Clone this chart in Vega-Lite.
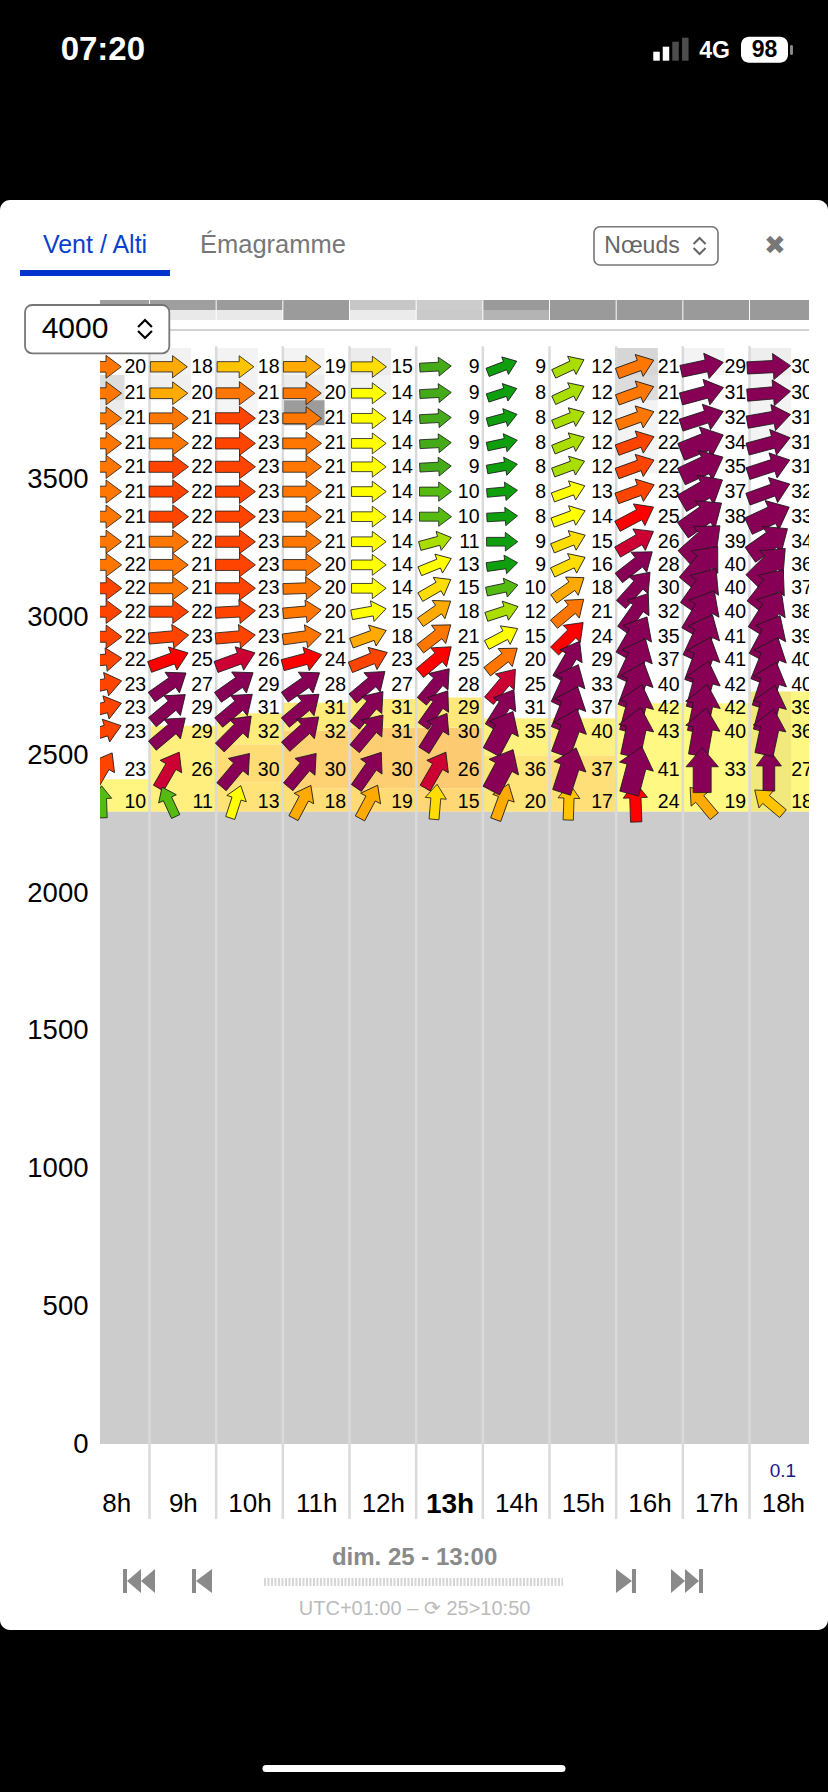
{
"$schema": "https://vega.github.io/schema/vega-lite/v6.json",
"autosize": "none",
"width": 709,
"height": 1144,
"padding": {"left": 100, "right": 19, "top": 300, "bottom": 348},
"background": "black",
"config": {"view": {"stroke": null}, "scale": {"continuousPadding": 0}},
"datasets": {
"cols": [
{"h":8,"hi":94,"lo":22,"rain":0},{"h":9,"hi":94,"lo":22,"rain":0},{"h":10,"hi":98,"lo":22,"rain":0},{"h":11,"hi":98,"lo":98,"rain":0},{"h":12,"hi":55,"lo":20,"rain":0},{"h":13,"hi":50,"lo":52,"rain":0},{"h":14,"hi":99,"lo":74,"rain":0},{"h":15,"hi":99,"lo":99,"rain":0},{"h":16,"hi":99,"lo":99,"rain":0},{"h":17,"hi":99,"lo":99,"rain":0},{"h":18,"hi":99,"lo":99,"rain":0.1}
],
"thermal": [
{"h":8,"base":2295,"top":2413,"climb":0.8},
{"h":9,"base":2295,"top":2607,"climb":1.1},
{"h":10,"base":2295,"top":2400,"climb":1.7},{"h":10,"base":2400,"top":2540,"climb":2.0},{"h":10,"base":2540,"top":2652,"climb":1.2},
{"h":11,"base":2295,"top":2380,"climb":1.9},{"h":11,"base":2380,"top":2590,"climb":2.5},{"h":11,"base":2590,"top":2691,"climb":1.3},
{"h":12,"base":2295,"top":2380,"climb":2.1},{"h":12,"base":2380,"top":2600,"climb":2.7},{"h":12,"base":2600,"top":2704,"climb":1.3},
{"h":13,"base":2295,"top":2380,"climb":2.2},{"h":13,"base":2380,"top":2600,"climb":2.9},{"h":13,"base":2600,"top":2710,"climb":1.4},
{"h":14,"base":2295,"top":2500,"climb":1.6},{"h":14,"base":2500,"top":2634,"climb":1.0},
{"h":15,"base":2295,"top":2500,"climb":1.8},{"h":15,"base":2500,"top":2634,"climb":1.0},
{"h":16,"base":2295,"top":2689,"climb":0.6},
{"h":17,"base":2295,"top":2689,"climb":0.6},
{"h":18,"base":2295,"top":2731,"climb":0.7}
],
"cloud": [
{"h":8,"lo":3789,"hi":3880,"cover":34},{"h":8,"lo":3698,"hi":3789,"cover":20},
{"h":9,"lo":3880,"hi":3978,"cover":13},{"h":9,"lo":3789,"hi":3880,"cover":16},
{"h":10,"lo":3880,"hi":3978,"cover":12},{"h":10,"lo":3789,"hi":3880,"cover":14},{"h":10,"lo":3698,"hi":3789,"cover":10},
{"h":11,"lo":3880,"hi":3978,"cover":12},{"h":11,"lo":3789,"hi":3880,"cover":20},{"h":11,"lo":3698,"hi":3789,"cover":97},
{"h":12,"lo":3880,"hi":3978,"cover":19},{"h":12,"lo":3789,"hi":3880,"cover":12},
{"h":16,"lo":3880,"hi":3978,"cover":40},{"h":16,"lo":3789,"hi":3880,"cover":34},{"h":16,"lo":3524,"hi":3789,"cover":12},
{"h":17,"lo":3880,"hi":3978,"cover":12},
{"h":18,"lo":3880,"hi":3978,"cover":17},{"h":18,"lo":3611,"hi":3880,"cover":12},{"h":18,"lo":2295,"hi":2731,"cover":14}
],
"wind": [
{"h":8,"a":3910,"kt":20,"dir":270},{"h":8,"a":3814,"kt":21,"dir":270},{"h":8,"a":3723,"kt":21,"dir":270},{"h":8,"a":3632,"kt":21,"dir":270},{"h":8,"a":3547,"kt":21,"dir":270},{"h":8,"a":3457,"kt":21,"dir":270},{"h":8,"a":3366,"kt":21,"dir":270},{"h":8,"a":3275,"kt":21,"dir":270},{"h":8,"a":3191,"kt":21.6,"dir":270},{"h":8,"a":3106,"kt":22,"dir":270},{"h":8,"a":3021,"kt":22,"dir":270},{"h":8,"a":2930,"kt":22,"dir":270},{"h":8,"a":2846,"kt":22,"dir":265},{"h":8,"a":2755,"kt":23,"dir":258},{"h":8,"a":2670,"kt":23,"dir":255},{"h":8,"a":2585,"kt":23,"dir":252},{"h":8,"a":2446,"kt":23,"dir":210},{"h":8,"a":2331,"kt":10,"dir":178},
{"h":9,"a":3910,"kt":18,"dir":270},{"h":9,"a":3814,"kt":19.6,"dir":270},{"h":9,"a":3723,"kt":21,"dir":270},{"h":9,"a":3632,"kt":21.6,"dir":270},{"h":9,"a":3547,"kt":22,"dir":270},{"h":9,"a":3457,"kt":22,"dir":270},{"h":9,"a":3366,"kt":22,"dir":270},{"h":9,"a":3275,"kt":21.6,"dir":270},{"h":9,"a":3191,"kt":21,"dir":270},{"h":9,"a":3106,"kt":21,"dir":270},{"h":9,"a":3021,"kt":22,"dir":270},{"h":9,"a":2930,"kt":23,"dir":265},{"h":9,"a":2846,"kt":25,"dir":250},{"h":9,"a":2755,"kt":27,"dir":235},{"h":9,"a":2670,"kt":29,"dir":230},{"h":9,"a":2585,"kt":29,"dir":230},{"h":9,"a":2446,"kt":26,"dir":210},{"h":9,"a":2331,"kt":10.6,"dir":155},
{"h":10,"a":3910,"kt":17.6,"dir":270},{"h":10,"a":3814,"kt":21,"dir":270},{"h":10,"a":3723,"kt":23,"dir":270},{"h":10,"a":3632,"kt":23,"dir":270},{"h":10,"a":3547,"kt":23,"dir":270},{"h":10,"a":3457,"kt":23,"dir":270},{"h":10,"a":3366,"kt":23,"dir":270},{"h":10,"a":3275,"kt":23,"dir":270},{"h":10,"a":3191,"kt":23,"dir":270},{"h":10,"a":3106,"kt":23,"dir":270},{"h":10,"a":3021,"kt":23,"dir":267},{"h":10,"a":2930,"kt":23,"dir":265},{"h":10,"a":2846,"kt":26,"dir":250},{"h":10,"a":2755,"kt":29,"dir":235},{"h":10,"a":2670,"kt":31,"dir":230},{"h":10,"a":2585,"kt":32,"dir":225},{"h":10,"a":2446,"kt":30,"dir":220},{"h":10,"a":2331,"kt":13,"dir":198},
{"h":11,"a":3910,"kt":19,"dir":270},{"h":11,"a":3814,"kt":20,"dir":270},{"h":11,"a":3723,"kt":21,"dir":270},{"h":11,"a":3632,"kt":21,"dir":270},{"h":11,"a":3547,"kt":21,"dir":270},{"h":11,"a":3457,"kt":21,"dir":270},{"h":11,"a":3366,"kt":21,"dir":270},{"h":11,"a":3275,"kt":21,"dir":270},{"h":11,"a":3191,"kt":20,"dir":270},{"h":11,"a":3106,"kt":20,"dir":268},{"h":11,"a":3021,"kt":20,"dir":265},{"h":11,"a":2930,"kt":21,"dir":262},{"h":11,"a":2846,"kt":24,"dir":255},{"h":11,"a":2755,"kt":28,"dir":235},{"h":11,"a":2670,"kt":31,"dir":230},{"h":11,"a":2585,"kt":32,"dir":228},{"h":11,"a":2446,"kt":30,"dir":220},{"h":11,"a":2331,"kt":18,"dir":208},
{"h":12,"a":3910,"kt":15,"dir":270},{"h":12,"a":3814,"kt":14,"dir":270},{"h":12,"a":3723,"kt":14,"dir":270},{"h":12,"a":3632,"kt":14,"dir":270},{"h":12,"a":3547,"kt":14,"dir":270},{"h":12,"a":3457,"kt":14,"dir":270},{"h":12,"a":3366,"kt":14,"dir":270},{"h":12,"a":3275,"kt":14,"dir":270},{"h":12,"a":3191,"kt":14,"dir":270},{"h":12,"a":3106,"kt":14,"dir":270},{"h":12,"a":3021,"kt":14.6,"dir":260},{"h":12,"a":2930,"kt":18,"dir":250},{"h":12,"a":2846,"kt":23,"dir":248},{"h":12,"a":2755,"kt":27,"dir":230},{"h":12,"a":2670,"kt":31,"dir":220},{"h":12,"a":2585,"kt":31,"dir":220},{"h":12,"a":2446,"kt":30,"dir":215},{"h":12,"a":2331,"kt":19,"dir":208},
{"h":13,"a":3910,"kt":9.2,"dir":267},{"h":13,"a":3814,"kt":9.2,"dir":267},{"h":13,"a":3723,"kt":9.2,"dir":267},{"h":13,"a":3632,"kt":9.2,"dir":267},{"h":13,"a":3547,"kt":9.2,"dir":267},{"h":13,"a":3457,"kt":10,"dir":270},{"h":13,"a":3366,"kt":10,"dir":270},{"h":13,"a":3275,"kt":11,"dir":255},{"h":13,"a":3191,"kt":13,"dir":248},{"h":13,"a":3106,"kt":15,"dir":240},{"h":13,"a":3021,"kt":18,"dir":235},{"h":13,"a":2930,"kt":21,"dir":232},{"h":13,"a":2846,"kt":25,"dir":230},{"h":13,"a":2755,"kt":28,"dir":220},{"h":13,"a":2670,"kt":29,"dir":215},{"h":13,"a":2585,"kt":30,"dir":212},{"h":13,"a":2446,"kt":26,"dir":210},{"h":13,"a":2331,"kt":15,"dir":185},
{"h":14,"a":3910,"kt":8.8,"dir":249},{"h":14,"a":3814,"kt":8,"dir":252},{"h":14,"a":3723,"kt":8,"dir":255},{"h":14,"a":3632,"kt":8,"dir":258},{"h":14,"a":3547,"kt":8,"dir":260},{"h":14,"a":3457,"kt":8,"dir":265},{"h":14,"a":3366,"kt":8,"dir":267},{"h":14,"a":3275,"kt":8.8,"dir":270},{"h":14,"a":3191,"kt":8.8,"dir":262},{"h":14,"a":3106,"kt":10,"dir":258},{"h":14,"a":3021,"kt":12,"dir":252},{"h":14,"a":2930,"kt":14.6,"dir":242},{"h":14,"a":2846,"kt":20,"dir":232},{"h":14,"a":2755,"kt":25.4,"dir":220},{"h":14,"a":2670,"kt":31,"dir":212},{"h":14,"a":2585,"kt":35,"dir":208},{"h":14,"a":2446,"kt":36,"dir":208},{"h":14,"a":2331,"kt":19.6,"dir":200},
{"h":15,"a":3910,"kt":12,"dir":245},{"h":15,"a":3814,"kt":12,"dir":245},{"h":15,"a":3723,"kt":12,"dir":248},{"h":15,"a":3632,"kt":12,"dir":248},{"h":15,"a":3547,"kt":12,"dir":250},{"h":15,"a":3457,"kt":13,"dir":250},{"h":15,"a":3366,"kt":14,"dir":250},{"h":15,"a":3275,"kt":15,"dir":248},{"h":15,"a":3191,"kt":16,"dir":245},{"h":15,"a":3106,"kt":18,"dir":235},{"h":15,"a":3021,"kt":21,"dir":230},{"h":15,"a":2930,"kt":24,"dir":225},{"h":15,"a":2846,"kt":29,"dir":210},{"h":15,"a":2755,"kt":33,"dir":205},{"h":15,"a":2670,"kt":37,"dir":202},{"h":15,"a":2585,"kt":40,"dir":200},{"h":15,"a":2446,"kt":37,"dir":198},{"h":15,"a":2331,"kt":17,"dir":182},
{"h":16,"a":3910,"kt":21,"dir":250},{"h":16,"a":3814,"kt":21,"dir":250},{"h":16,"a":3723,"kt":21.6,"dir":250},{"h":16,"a":3632,"kt":22,"dir":250},{"h":16,"a":3547,"kt":22,"dir":250},{"h":16,"a":3457,"kt":23,"dir":250},{"h":16,"a":3366,"kt":25,"dir":242},{"h":16,"a":3275,"kt":26,"dir":240},{"h":16,"a":3191,"kt":28,"dir":232},{"h":16,"a":3106,"kt":30,"dir":222},{"h":16,"a":3021,"kt":32,"dir":215},{"h":16,"a":2930,"kt":35,"dir":210},{"h":16,"a":2846,"kt":37,"dir":205},{"h":16,"a":2755,"kt":40,"dir":200},{"h":16,"a":2670,"kt":42,"dir":195},{"h":16,"a":2585,"kt":43,"dir":192},{"h":16,"a":2446,"kt":41,"dir":195},{"h":16,"a":2331,"kt":24,"dir":178},
{"h":17,"a":3910,"kt":29,"dir":258},{"h":17,"a":3814,"kt":31,"dir":255},{"h":17,"a":3723,"kt":32,"dir":252},{"h":17,"a":3632,"kt":34,"dir":248},{"h":17,"a":3547,"kt":35,"dir":245},{"h":17,"a":3457,"kt":37,"dir":240},{"h":17,"a":3366,"kt":38,"dir":235},{"h":17,"a":3275,"kt":39,"dir":228},{"h":17,"a":3191,"kt":40,"dir":220},{"h":17,"a":3106,"kt":40,"dir":215},{"h":17,"a":3021,"kt":40,"dir":210},{"h":17,"a":2930,"kt":41,"dir":205},{"h":17,"a":2846,"kt":41,"dir":200},{"h":17,"a":2755,"kt":42,"dir":195},{"h":17,"a":2670,"kt":42,"dir":192},{"h":17,"a":2585,"kt":40,"dir":190},{"h":17,"a":2446,"kt":33,"dir":180},{"h":17,"a":2331,"kt":19,"dir":140},
{"h":18,"a":3910,"kt":30,"dir":267},{"h":18,"a":3814,"kt":30,"dir":265},{"h":18,"a":3723,"kt":31,"dir":260},{"h":18,"a":3632,"kt":31,"dir":255},{"h":18,"a":3547,"kt":31,"dir":252},{"h":18,"a":3457,"kt":32,"dir":250},{"h":18,"a":3366,"kt":33,"dir":245},{"h":18,"a":3275,"kt":34,"dir":235},{"h":18,"a":3191,"kt":36,"dir":225},{"h":18,"a":3106,"kt":37,"dir":218},{"h":18,"a":3021,"kt":38,"dir":212},{"h":18,"a":2930,"kt":39,"dir":208},{"h":18,"a":2846,"kt":40,"dir":202},{"h":18,"a":2755,"kt":40,"dir":198},{"h":18,"a":2670,"kt":39,"dir":195},{"h":18,"a":2585,"kt":36,"dir":192},{"h":18,"a":2446,"kt":27,"dir":180},{"h":18,"a":2331,"kt":17.6,"dir":130}
]
},
"resolve": {"scale": {"fill": "independent"}},
"layer": [
{"data": {"values": [{}]}, "mark": {"type": "rect", "fill": "white", "cornerRadius": 10, "clip": false},
 "encoding": {"x": {"datum": 6.2576}, "x2": {"datum": 18.6771}, "y": {"datum": 4515.4}, "y2": {"datum": -675.1}}},
{"data": {"name": "cols"}, "mark": {"type": "bar", "width": 65.7, "fill": "black", "clip": true},
 "encoding": {"x": {"field": "h", "type": "quantitative", "scale": {"domain": [7.7575, 18.3921], "nice": false, "zero": false, "padding": 0}},
  "y": {"datum": 4152.4, "scale": {"domain": [0, 4152.45], "nice": false, "zero": false, "padding": 0}}, "y2": {"datum": 4116.2},
  "opacity": {"field": "hi", "type": "quantitative", "scale": {"domain": [0, 100], "range": [0, 0.4]}, "legend": null}}},
{"data": {"name": "cols"}, "mark": {"type": "bar", "width": 65.7, "fill": "black", "clip": true},
 "encoding": {"x": {"field": "h", "type": "quantitative"},
  "y": {"datum": 4116.2}, "y2": {"datum": 4079.9},
  "opacity": {"field": "lo", "type": "quantitative", "scale": {"domain": [0, 100], "range": [0, 0.4]}, "legend": null}}},
{"data": {"values": [{}]}, "mark": {"type": "rule", "stroke": "#d3d3d3", "strokeWidth": 2, "clip": true},
 "encoding": {"x": {"datum": 7.7575}, "x2": {"datum": 18.3921}, "y": {"datum": 4043.6}}},
{"data": {"name": "thermal"}, "mark": {"type": "bar", "width": 66.67, "clip": true},
 "encoding": {"x": {"field": "h", "type": "quantitative"},
  "y": {"field": "base", "type": "quantitative"}, "y2": {"field": "top"},
  "fill": {"field": "climb", "type": "quantitative", "scale": {"domain": [0.5, 3], "range": ["#fffb85", "#fcc870"]}, "legend": null}}},
{"data": {"name": "cloud"}, "mark": {"type": "bar", "width": 41.7, "xOffset": -12.5, "fill": "black", "clip": true},
 "encoding": {"x": {"field": "h", "type": "quantitative"},
  "y": {"field": "lo", "type": "quantitative"}, "y2": {"field": "hi"},
  "opacity": {"field": "cover", "type": "quantitative", "scale": {"domain": [0, 100], "range": [0, 0.4]}, "legend": null}}},
{"data": {"values": [{}]}, "mark": {"type": "rect", "fill": "#cccccc", "clip": true},
 "encoding": {"x": {"datum": 7.7575}, "x2": {"datum": 18.3921}, "y": {"datum": 0}, "y2": {"datum": 2295}}},
{"data": {"name": "cols"}, "transform": [{"filter": "datum.h < 18"}], "mark": {"type": "rule", "stroke": "#dadada", "strokeWidth": 2.5, "xOffset": 33.33, "clip": false},
 "encoding": {"x": {"field": "h", "type": "quantitative"}, "y": {"datum": 3985}, "y2": {"datum": -272}}},
{"data": {"name": "wind"}, "mark": {"type": "text", "align": "right", "baseline": "middle", "dx": 30, "font": "Liberation Sans", "fontSize": 19.5, "color": "black", "clip": true},
 "encoding": {"x": {"field": "h", "type": "quantitative",
   "axis": {"values": [8,9,10,11,12,13,14,15,16,17,18], "labelExpr": "datum.value + 'h'", "title": null, "domain": false, "ticks": false, "tickSize": 0, "grid": false, "zindex": 2, "labelPadding": 46, "labelFont": "Liberation Sans", "labelColor": "black", "labelFlush": false, "labelOverlap": false, "labelBound": false,
    "labelFontSize": {"condition": {"test": "datum.value == 13", "value": 28}, "value": 26},
    "labelFontWeight": {"condition": {"test": "datum.value == 13", "value": "bold"}, "value": "normal"}}},
  "y": {"field": "a", "type": "quantitative",
   "axis": {"values": [0,500,1000,1500,2000,2500,3000,3500], "format": "d", "title": null, "domain": false, "ticks": false, "tickSize": 0, "grid": false, "zindex": 2, "labelPadding": 12, "labelFont": "Liberation Sans", "labelFontSize": 27.5, "labelColor": "black", "labelFlush": false, "labelOverlap": false, "labelBound": false}},
  "text": {"field": "kt", "type": "quantitative", "format": ".0f"}}},
{"data": {"name": "wind"}, "transform": [{"filter": "datum.kt < 33"}],
 "mark": {"type": "point", "shape": "M-1,-0.28L0.2,-0.28L0.2,-0.6L1,0L0.2,0.6L0.2,0.28L-1,0.28Z", "filled": true, "opacity": 1, "stroke": "#1a1a1a", "strokeWidth": 0.8, "xOffset": -14, "clip": true},
 "encoding": {"x": {"field": "h", "type": "quantitative"}, "y": {"field": "a", "type": "quantitative"},
  "fill": {"field": "kt", "type": "quantitative", "scale": {"type": "threshold", "domain": [9, 10, 10.7, 12.7, 14.8, 16.8, 17.8, 19.7, 21.8, 23.6, 25.3, 26.6], "range": ["#0e9e0e", "#44aa18", "#55bb11", "#aadd00", "#ffff00", "#ffdd00", "#ffc400", "#ffaa00", "#ff7700", "#ff4400", "#ff0000", "#cc0033", "#880055"]}, "legend": null},
  "size": {"field": "kt", "type": "quantitative", "scale": {"domain": [8, 43], "range": [940, 2450]}, "legend": null},
  "angle": {"field": "dir", "type": "quantitative", "scale": {"domain": [0, 360], "range": [90, 450]}, "legend": null}}},
{"data": {"name": "wind"}, "transform": [{"filter": "datum.kt >= 33"}],
 "mark": {"type": "point", "shape": "M-1,-0.4L0.15,-0.4L0.15,-0.72L1,0L0.15,0.72L0.15,0.4L-1,0.4Z", "filled": true, "opacity": 1, "stroke": "#1a1a1a", "strokeWidth": 0.8, "xOffset": -14, "clip": true},
 "encoding": {"x": {"field": "h", "type": "quantitative"}, "y": {"field": "a", "type": "quantitative"},
  "fill": {"field": "kt", "type": "quantitative", "scale": {"type": "threshold", "domain": [9, 10, 10.7, 12.7, 14.8, 16.8, 17.8, 19.7, 21.8, 23.6, 25.3, 26.6], "range": ["#0e9e0e", "#44aa18", "#55bb11", "#aadd00", "#ffff00", "#ffdd00", "#ffc400", "#ffaa00", "#ff7700", "#ff4400", "#ff0000", "#cc0033", "#880055"]}, "legend": null},
  "size": {"field": "kt", "type": "quantitative", "scale": {"domain": [8, 43], "range": [940, 2450]}, "legend": null},
  "angle": {"field": "dir", "type": "quantitative", "scale": {"domain": [0, 360], "range": [90, 450]}, "legend": null}}},
{"data": {"name": "cols"}, "transform": [{"filter": "datum.rain > 0"}], "mark": {"type": "text", "align": "center", "baseline": "middle", "font": "Liberation Sans", "fontSize": 19, "color": "#1a1a8c", "clip": false},
 "encoding": {"x": {"field": "h", "type": "quantitative"}, "y": {"datum": -98}, "text": {"field": "rain", "type": "quantitative", "format": ".1f"}}},
{"data": {"values": [{}]}, "mark": {"type": "rect", "fill": "white", "stroke": "#777777", "strokeWidth": 1.8, "cornerRadius": 7, "clip": false},
 "encoding": {"x": {"datum": 6.633}, "x2": {"datum": 8.797}, "y": {"datum": 4134.3}, "y2": {"datum": 3959.0}}},
{"data": {"values": [{}]}, "mark": {"type": "text", "text": "4000", "align": "center", "baseline": "middle", "font": "Liberation Sans", "fontSize": 30, "color": "black", "clip": false},
 "encoding": {"x": {"datum": 7.383}, "y": {"datum": 4047.2}}},
{"data": {"values": [{}]}, "mark": {"type": "point", "shape": "M-0.5,-0.15L0,-0.65L0.5,-0.15M-0.5,0.15L0,0.65L0.5,0.15", "filled": false, "opacity": 1, "stroke": "black", "strokeWidth": 2.2, "size": 767, "clip": false},
 "encoding": {"x": {"datum": 8.4325}, "y": {"datum": 4047.2}}},
{"data": {"values": [{}]}, "mark": {"type": "text", "text": "07:20", "align": "center", "baseline": "middle", "font": "Liberation Sans", "fontSize": 33, "fontWeight": "bold", "color": "white", "clip": false},
 "encoding": {"x": {"datum": 7.8}, "y": {"datum": 5060}}},
{"data": {"values": [{}]}, "mark": {"type": "rule", "stroke": "white", "strokeWidth": 6.5, "clip": false},
 "encoding": {"x": {"datum": 16.105}, "y": {"datum": 5053.7}, "y2": {"datum": 5021.1}}},
{"data": {"values": [{}]}, "mark": {"type": "rule", "stroke": "white", "strokeWidth": 6.5, "clip": false},
 "encoding": {"x": {"datum": 16.247}, "y": {"datum": 5071.9}, "y2": {"datum": 5021.1}}},
{"data": {"values": [{}]}, "mark": {"type": "rule", "stroke": "#4d4d4d", "strokeWidth": 6.5, "clip": false},
 "encoding": {"x": {"datum": 16.39}, "y": {"datum": 5090.0}, "y2": {"datum": 5021.1}}},
{"data": {"values": [{}]}, "mark": {"type": "rule", "stroke": "#4d4d4d", "strokeWidth": 6.5, "clip": false},
 "encoding": {"x": {"datum": 16.537}, "y": {"datum": 5104.5}, "y2": {"datum": 5021.1}}},
{"data": {"values": [{}]}, "mark": {"type": "text", "text": "4G", "align": "center", "baseline": "middle", "font": "Liberation Sans", "fontSize": 23, "fontWeight": "bold", "color": "white", "clip": false},
 "encoding": {"x": {"datum": 16.975}, "y": {"datum": 5057}}},
{"data": {"values": [{}]}, "mark": {"type": "rect", "fill": "white", "cornerRadius": 8, "clip": false},
 "encoding": {"x": {"datum": 17.372}, "x2": {"datum": 18.077}, "y": {"datum": 5108.2}, "y2": {"datum": 5013.8}}},
{"data": {"values": [{}]}, "mark": {"type": "rect", "fill": "#888888", "cornerRadius": 1.5, "clip": false},
 "encoding": {"x": {"datum": 18.107}, "x2": {"datum": 18.152}, "y": {"datum": 5078}, "y2": {"datum": 5042}}},
{"data": {"values": [{}]}, "mark": {"type": "text", "text": "98", "align": "center", "baseline": "middle", "font": "Liberation Sans", "fontSize": 23, "fontWeight": "bold", "color": "black", "clip": false},
 "encoding": {"x": {"datum": 17.725}, "y": {"datum": 5061}}},
{"data": {"values": [{}]}, "mark": {"type": "text", "text": "Vent / Alti", "align": "center", "baseline": "middle", "font": "Liberation Sans", "fontSize": 25, "color": "#0b3fce", "clip": false},
 "encoding": {"x": {"datum": 7.683}, "y": {"datum": 4352}}},
{"data": {"values": [{}]}, "mark": {"type": "rect", "fill": "#0033cc", "clip": false},
 "encoding": {"x": {"datum": 6.558}, "x2": {"datum": 8.807}, "y": {"datum": 4261.3}, "y2": {"datum": 4239.6}}},
{"data": {"values": [{}]}, "mark": {"type": "text", "text": "Émagramme", "align": "center", "baseline": "middle", "font": "Liberation Sans", "fontSize": 25.5, "color": "#777777", "clip": false},
 "encoding": {"x": {"datum": 10.352}, "y": {"datum": 4352}}},
{"data": {"values": [{}]}, "mark": {"type": "rect", "fill": "white", "stroke": "#777777", "strokeWidth": 1.6, "cornerRadius": 6, "clip": false},
 "encoding": {"x": {"datum": 15.167}, "x2": {"datum": 17.027}, "y": {"datum": 4418.5}, "y2": {"datum": 4279.5}}},
{"data": {"values": [{}]}, "mark": {"type": "text", "text": "Nœuds", "align": "center", "baseline": "middle", "font": "Liberation Sans", "fontSize": 23, "color": "#666666", "clip": false},
 "encoding": {"x": {"datum": 15.887}, "y": {"datum": 4348.5}}},
{"data": {"values": [{}]}, "mark": {"type": "point", "shape": "M-0.45,-0.15L0,-0.6L0.45,-0.15M-0.45,0.15L0,0.6L0.45,0.15", "filled": false, "opacity": 1, "stroke": "#666666", "strokeWidth": 2, "size": 711, "clip": false},
 "encoding": {"x": {"datum": 16.751}, "y": {"datum": 4348.5}}},
{"data": {"values": [{}]}, "mark": {"type": "text", "text": "✖", "align": "center", "baseline": "middle", "font": "DejaVu Sans", "fontSize": 26, "color": "#777777", "clip": false},
 "encoding": {"x": {"datum": 17.882}, "y": {"datum": 4348.5}}},
{"data": {"values": [{}]}, "mark": {"type": "text", "text": "dim. 25 - 13:00", "align": "center", "baseline": "middle", "font": "Liberation Sans", "fontSize": 24, "fontWeight": "bold", "color": "#8a8a8a", "clip": false},
 "encoding": {"x": {"datum": 12.476}, "y": {"datum": -413.1}}},
{"data": {"values": [{}]}, "mark": {"type": "rule", "stroke": "#d6d6d6", "strokeWidth": 8, "strokeDash": [2, 1.5], "clip": false},
 "encoding": {"x": {"datum": 10.217}, "x2": {"datum": 14.702}, "y": {"datum": -500.9}}},
{"data": {"values": [{}]}, "mark": {"type": "text", "text": "UTC+01:00 – ⟳ 25>10:50", "align": "center", "baseline": "middle", "font": "Liberation Sans", "fontSize": 20, "color": "#bbbbbb", "clip": false},
 "encoding": {"x": {"datum": 12.476}, "y": {"datum": -598.9}}},
{"data": {"values": [{}]}, "mark": {"type": "point", "shape": "M-1,-0.75L-0.75,-0.75L-0.75,0.75L-1,0.75ZM-0.75,0L0.125,-0.75L0.125,0.75ZM0.125,0L1,-0.75L1,0.75Z", "filled": true, "opacity": 1, "color": "#8a8a8a", "size": 1024, "clip": false},
 "encoding": {"x": {"datum": 8.3425}, "y": {"datum": -497.3}}},
{"data": {"values": [{}]}, "mark": {"type": "point", "shape": "M-0.625,-0.75L-0.375,-0.75L-0.375,0.75L-0.625,0.75ZM-0.375,0L0.625,-0.75L0.625,0.75Z", "filled": true, "opacity": 1, "color": "#8a8a8a", "size": 1024, "clip": false},
 "encoding": {"x": {"datum": 9.2875}, "y": {"datum": -497.3}}},
{"data": {"values": [{}]}, "mark": {"type": "point", "shape": "M0.625,-0.75L0.375,-0.75L0.375,0.75L0.625,0.75ZM0.375,0L-0.625,-0.75L-0.625,0.75Z", "filled": true, "opacity": 1, "color": "#8a8a8a", "size": 1024, "clip": false},
 "encoding": {"x": {"datum": 15.647}, "y": {"datum": -497.3}}},
{"data": {"values": [{}]}, "mark": {"type": "point", "shape": "M1,-0.75L0.75,-0.75L0.75,0.75L1,0.75ZM0.75,0L-0.125,-0.75L-0.125,0.75ZM-0.125,0L-1,-0.75L-1,0.75Z", "filled": true, "opacity": 1, "color": "#8a8a8a", "size": 1024, "clip": false},
 "encoding": {"x": {"datum": 16.562}, "y": {"datum": -497.3}}},
{"data": {"values": [{}]}, "mark": {"type": "rule", "stroke": "white", "strokeWidth": 7, "strokeCap": "round", "clip": false},
 "encoding": {"x": {"datum": 10.247}, "x2": {"datum": 14.687}, "y": {"datum": -1177.9}}}
]
}
